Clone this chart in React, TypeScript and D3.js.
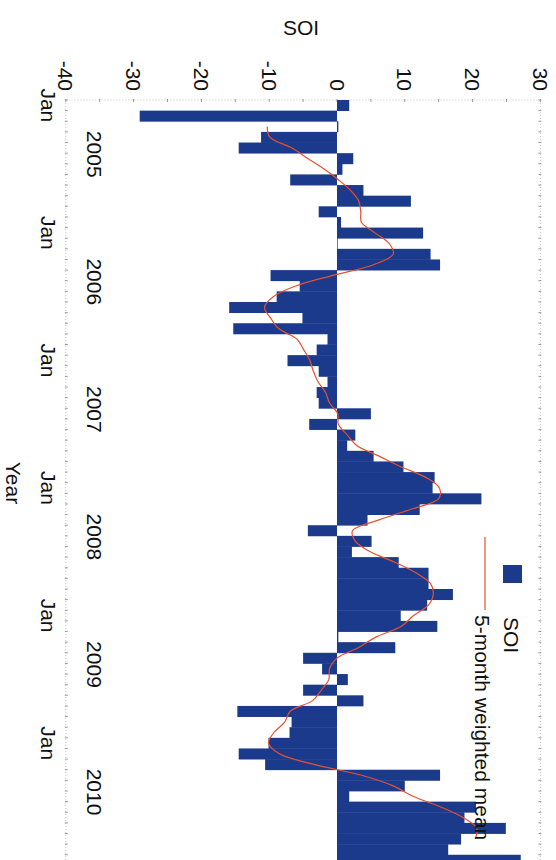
import React from "react";
import * as d3 from "d3";

// SOI monthly values, Jan 2005 - Dec 2010
const years = [2005, 2006, 2007, 2008, 2009, 2010];
const monthNames = ["Jan", "Feb", "Mar", "Apr", "May", "Jun", "Jul", "Aug", "Sep", "Oct", "Nov", "Dec"];

const soi2005 = [1.8, -29.1, 0.2, -11.2, -14.5, 2.4, 0.8, -6.9, 3.9, 10.9, -2.7, 0.6];
const soi2006 = [12.7, 0.1, 13.8, 15.2, -9.8, -5.5, -8.9, -15.9, -5.1, -15.3, -1.4, -3.0];
const soi2007 = [-7.3, -2.7, -1.4, -3.0, -2.7, 5.0, -4.1, 2.7, 1.5, 5.4, 9.8, 14.4];
const soi2008 = [14.1, 21.3, 12.2, 4.5, -4.3, 5.1, 2.2, 9.1, 13.5, 13.5, 17.1, 13.3];
const soi2009 = [9.4, 14.8, 0.2, 8.6, -5.0, -2.2, 1.6, -5.0, 3.9, -14.7, -6.7, -7.0];
const soi2010 = [-10.1, -14.5, -10.6, 15.2, 10.0, 1.8, 20.5, 18.8, 24.9, 18.3, 16.4, 27.1];

// 5-month weighted mean, first value at Mar 2005
const meanStart = 2;
const weightedMean = [
  -10.3, -9.9, -6.7, -4.3, -1.9, 0.2, 2.0, 3.2, 3.5, 3.6,
  5.6, 7.7, 8.3, 5.4, -0.6, -6.1, -9.4, -10.7, -9.8, -8.6, -5.9, -4.9,
  -4.0, -3.5, -2.8, -1.7, -1.1, 0.1, 0.2, 1.5, 2.9, 6.2, 9.4, 13.1,
  15.1, 15.0, 10.9, 6.2, 2.3, 2.7, 4.9, 8.6, 11.7, 13.8, 14.2, 13.5,
  11.3, 9.5, 5.8, 3.2, 0.0, -1.1, -1.2, -2.3, -3.6, -6.9, -7.7, -9.3,
  -10.1, -8.5, -3.4, 3.5, 8.2, 11.2, 15.3, 18.6, 20.6, 20.4,
];

const soiTicks = [-40, -30, -20, -10, 0, 10, 20, 30];

const soiValues = [...soi2005, ...soi2006, ...soi2007, ...soi2008, ...soi2009, ...soi2010];
const months = years.flatMap((y) => monthNames.map((m) => `${m} ${y}`));

const font = "'Liberation Sans', Arial, Helvetica, sans-serif";
const barColor = "#1b3a8c";
const lineColor = "#e8502e";
const gridColor = "#c4c4c4";

export default function App() {
  // drawn landscape, then turned 90deg clockwise
  const W = 556;
  const H = 860;

  const x = d3.scaleBand().domain(months).range([100, 865.4]).padding(0);
  const y = d3.scaleLinear().domain([-40, 30]).range([490.2, 15.6]);
  const bw = x.bandwidth();

  const line = d3
    .line<number>()
    .x((d, i) => (x(months[i + meanStart]) as number) + bw / 2)
    .y((d) => y(d))
    .curve(d3.curveCatmullRom);

  const fives = d3.range(-40, 31, 5);

  return (
    <svg width={W} height={H} style={{ position: "absolute", left: 0, top: 0, background: "#fff" }}>
      <g transform={`translate(${W},0) rotate(90)`} fontFamily={font} fill="#111">
        {/* frame */}
        <line x1={100} x2={100} y1={y(30)} y2={y(-40)} stroke={gridColor} strokeDasharray="1,2" />
        <line x1={100} x2={880} y1={y(-40)} y2={y(-40)} stroke={gridColor} strokeDasharray="1,2" />
        <line x1={100} x2={880} y1={y(30)} y2={y(30)} stroke={gridColor} strokeDasharray="1,2" />
        {fives.map((v) => (
          <line key={"t" + v} x1={99} x2={102} y1={y(v)} y2={y(v)} stroke="#9a9a9a" />
        ))}
        {months.map((m) => (
          <g key={"mt" + m}>
            <line x1={x(m)} x2={x(m)} y1={y(-40) - 2} y2={y(-40) + 1} stroke="#9a9a9a" />
            <line x1={x(m)} x2={x(m)} y1={y(30) - 1} y2={y(30) + 2} stroke="#9a9a9a" />
          </g>
        ))}

        {/* bars */}
        {soiValues.map((v, i) => (
          <rect
            key={months[i]}
            x={x(months[i])}
            width={bw + 0.4}
            y={y(Math.max(v, 0))}
            height={Math.abs(y(v) - y(0))}
            fill={barColor}
          />
        ))}

        {/* weighted mean */}
        <path d={line(weightedMean) || ""} fill="none" stroke={lineColor} strokeWidth={1.2} />

        {/* SOI axis labels */}
        {soiTicks.map((v) => (
          <text key={"l" + v} x={91} y={y(v)} dy="0.35em" textAnchor="end" fontSize={21}>
            {v}
          </text>
        ))}
        <text transform={`translate(35,${556 - 301}) rotate(-90)`} textAnchor="middle" fontSize={21}>
          SOI
        </text>

        {/* time axis labels */}
        {years.map((yr) => {
          const jan = `Jan ${yr}`;
          const x0 = x(jan) as number;
          return (
            <g key={"y" + yr}>
              <text x={x0 + bw / 2} y={515} textAnchor="middle" fontSize={21}>
                Jan
              </text>
              <text x={x0 + 5.1 * bw} y={469} textAnchor="middle" fontSize={21}>
                {yr}
              </text>
            </g>
          );
        })}
        <text x={483} y={550} textAnchor="middle" fontSize={21}>
          Year
        </text>

        {/* legend */}
        <rect x={565} y={34} width={18} height={19} fill={barColor} />
        <text x={617} y={52} fontSize={21}>
          SOI
        </text>
        <line x1={537} x2={610} y1={71} y2={71} stroke={lineColor} strokeWidth={1.2} />
        <text x={615} y={81} fontSize={21}>
          5-month weighted mean
        </text>
      </g>
    </svg>
  );
}
